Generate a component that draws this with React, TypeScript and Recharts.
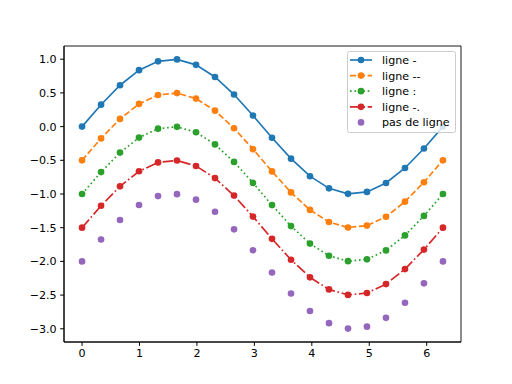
import { Line, LineChart, XAxis, YAxis, ReferenceArea } from 'recharts';

// x positions of the 20 samples
const xs = [0, 0.331, 0.661, 0.992, 1.323, 1.653, 1.984, 2.315, 2.646, 2.976, 3.307, 3.638, 3.968, 4.299, 4.63, 4.96, 5.291, 5.622, 5.952, 6.283];

const solidVals = [0, 0.325, 0.614, 0.837, 0.969, 0.997, 0.916, 0.736, 0.476, 0.165, -0.165, -0.476, -0.736, -0.916, -0.997, -0.969, -0.837, -0.614, -0.325, 0];
const dashedVals = [-0.5, -0.175, 0.114, 0.337, 0.469, 0.497, 0.416, 0.236, -0.024, -0.335, -0.665, -0.976, -1.236, -1.416, -1.497, -1.469, -1.337, -1.114, -0.825, -0.5];
const dottedVals = [-1, -0.675, -0.386, -0.163, -0.031, -0.003, -0.084, -0.264, -0.524, -0.835, -1.165, -1.476, -1.736, -1.916, -1.997, -1.969, -1.837, -1.614, -1.325, -1];
const dashDotVals = [-1.5, -1.175, -0.886, -0.663, -0.531, -0.503, -0.584, -0.764, -1.024, -1.335, -1.665, -1.976, -2.236, -2.416, -2.497, -2.469, -2.337, -2.114, -1.825, -1.5];
const noLineVals = [-2, -1.675, -1.386, -1.163, -1.031, -1.003, -1.084, -1.264, -1.524, -1.835, -2.165, -2.476, -2.736, -2.916, -2.997, -2.969, -2.837, -2.614, -2.325, -2];

const xTicks = [0, 1, 2, 3, 4, 5, 6];
const yTicks = [-3, -2.5, -2, -1.5, -1, -0.5, 0, 0.5, 1];
const xDomain: [number, number] = [-0.314, 6.597];
const yDomain: [number, number] = [-3.196, 1.196];

const series = [
  { key: 'a', name: 'ligne -', color: '#1f77b4', dash: undefined as string | undefined, line: true },
  { key: 'b', name: 'ligne --', color: '#ff7f0e', dash: '6.17 2.67', line: true },
  { key: 'c', name: 'ligne :', color: '#2ca02c', dash: '1.67 2.75', line: true },
  { key: 'd', name: 'ligne -.', color: '#d62728', dash: '10.67 2.67 1.67 2.67', line: true },
  { key: 'e', name: 'pas de ligne', color: '#9467bd', dash: undefined, line: false },
];

const data = xs.map((x, i) => ({
  x,
  a: solidVals[i],
  b: dashedVals[i],
  c: dottedVals[i],
  d: dashDotVals[i],
  e: noLineVals[i],
}));

const FONT = 'DejaVu Sans, sans-serif';
const minus = (s: string) => s.replace('-', '\u2212');

function LegendBox() {
  return (
    <svg width={110} height={83} style={{ display: 'block' }}>
      <rect x={0.5} y={0.5} width={108} height={81} rx={2} fill="#fff" fillOpacity={0.8} stroke="#cccccc" strokeWidth={1} />
      {series.map((s, i) => {
        const cy = 9 + i * 15.6;
        return (
          <g key={s.key}>
            {s.line && (
              <line x1={3} x2={25} y1={cy} y2={cy} stroke={s.color} strokeWidth={1.67} strokeDasharray={s.dash} />
            )}
            <circle cx={14} cy={cy} r={3.33} fill={s.color} />
            <text x={35} y={cy + 4} fontSize={11.1} fontFamily={FONT} fill="#000">
              {s.name}
            </text>
          </g>
        );
      })}
    </svg>
  );
}

export default function App() {
  return (
    <div style={{ position: 'absolute', left: 0, top: 0, width: 512, height: 384, background: '#fff' }}>
      <LineChart
        width={512}
        height={384}
        data={data}
        margin={{ top: 46, right: 51, bottom: 0, left: 0 }}
      >
        <XAxis
          dataKey="x"
          type="number"
          domain={xDomain}
          ticks={xTicks}
          allowDataOverflow
          height={42}
          tickSize={3.9}
          tickMargin={3.5}
          stroke="#000"
          tick={{ fill: '#000', fontSize: 11.1, fontFamily: FONT }}
          tickFormatter={(v: number) => `${v}`}
        />
        <YAxis
          type="number"
          domain={yDomain}
          ticks={yTicks}
          allowDataOverflow
          width={64}
          tickSize={3.9}
          tickMargin={3.5}
          stroke="#000"
          tick={{ fill: '#000', fontSize: 11.1, fontFamily: FONT }}
          tickFormatter={(v: number) => minus(v.toFixed(1))}
        />
        {series.map(s => (
          <Line
            key={s.key}
            dataKey={s.key}
            name={s.name}
            type="linear"
            stroke={s.line ? s.color : 'none'}
            strokeWidth={1.67}
            strokeDasharray={s.dash}
            dot={{ r: 3.33, fill: s.color, stroke: 'none', strokeWidth: 0 }}
            activeDot={false}
            isAnimationActive={false}
          />
        ))}
        <ReferenceArea
          x1={xDomain[0]}
          x2={xDomain[1]}
          y1={yDomain[0]}
          y2={yDomain[1]}
          fill="none"
          stroke="#000"
          strokeWidth={0.9}
          ifOverflow="visible"
        />
      </LineChart>
      <div style={{ position: 'absolute', left: 347, top: 51 }}>
        <LegendBox />
      </div>
    </div>
  );
}
